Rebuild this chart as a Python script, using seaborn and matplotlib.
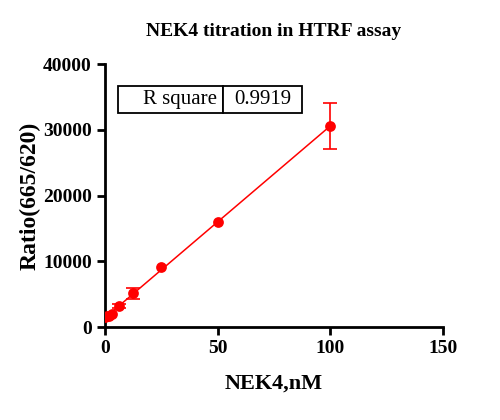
import numpy as np
import seaborn as sns
import pandas as pd
from matplotlib import pyplot as plt

# NEK4 concentrations (nM) and HTRF ratio (665/620)
conc = [0, 0.78, 1.56, 3.125, 6.25, 12.5, 25, 50, 100]
ratio = [1500, 1600, 1750, 2000, 3200, 5100, 9150, 15950, 30500]
# SD; nan where the bar is hidden behind the marker
err = [np.nan, np.nan, np.nan, np.nan, 250, 900, np.nan, np.nan, 3500]
r_square = "0.9919"

sns.set_style("ticks")
plt.rcParams['font.family'] = ['Liberation Serif', 'DejaVu Serif']
plt.rcParams['text.color'] = 'black'
plt.rcParams['axes.labelcolor'] = 'black'

fig = plt.figure(figsize=(5, 4.2), dpi=100)
ax = fig.add_axes([0.21, 0.2214, 0.676, 0.6262])

df = pd.DataFrame({"conc": conc, "ratio": ratio})

# linear fit
slope, icpt = np.polyfit(conc, ratio, 1)
xf = np.array([0, max(conc)])
ax.plot(xf, slope * xf + icpt, color="red", lw=1.1, zorder=2)

ax.errorbar(conc, ratio, yerr=err, fmt="none", ecolor="red", elinewidth=1.2,
            capsize=5, capthick=1.2, zorder=3)
sns.scatterplot(data=df, x="conc", y="ratio", color="red", s=60,
                edgecolor="red", linewidth=0, ax=ax, zorder=4)

ax.set_xlim(0, 150)
ax.set_ylim(0, 40000)
ax.set_xticks([0, 50, 100, 150])
ax.set_yticks([0, 10000, 20000, 30000, 40000])
for s in ["left", "bottom"]:
    ax.spines[s].set_linewidth(2)
    ax.spines[s].set_color("black")
ax.spines["top"].set_visible(False)
ax.spines["right"].set_visible(False)
ax.tick_params(width=2, length=6, labelsize=14, colors="black")
for lab in ax.get_xticklabels() + ax.get_yticklabels():
    lab.set_fontweight("bold")

ax.set_xlabel("NEK4,nM", fontsize=16, fontweight="bold", labelpad=12)
ax.set_ylabel("Ratio(665/620)", fontsize=17, fontweight="bold", labelpad=2)
ax.set_title("NEK4 titration in HTRF assay", fontsize=14, fontweight="bold", pad=20)

tbl = ax.table(cellText=[["R square", r_square]], cellLoc="center",
               bbox=[0.038, 0.815, 0.545, 0.1], colWidths=[0.57, 0.43])
tbl.auto_set_font_size(False)
for (r, c), cell in tbl.get_celld().items():
    cell.set_linewidth(1.3)
    cell.set_fontsize(15)
    cell.get_text().set_fontfamily("Liberation Serif")
tbl.get_celld()[(0, 0)].set_text_props(ha="right")
tbl.get_celld()[(0, 0)].PAD = 0.06

fig.savefig("out.png", dpi=100)
